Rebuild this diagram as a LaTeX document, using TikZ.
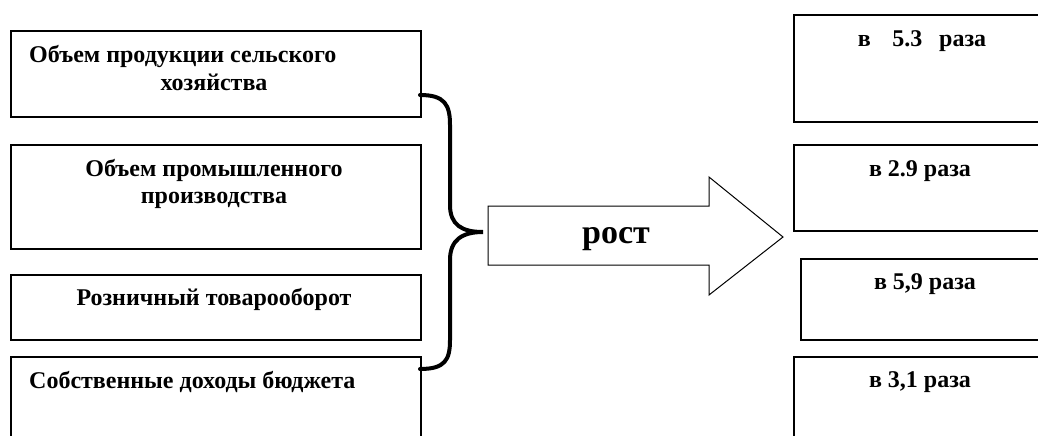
\documentclass[tikz,border=0pt]{standalone}
\usepackage{fontspec}
\setmainfont{Liberation Serif}
\begin{document}
\begin{tikzpicture}[x=1pt,y=-1pt,
  box/.style={draw=black,line width=1.6pt,inner sep=0pt,anchor=north west},
  txt/.style={font=\fontsize{24}{28}\selectfont\bfseries,inner sep=0pt,anchor=base},
  big/.style={font=\fontsize{34}{40}\selectfont\bfseries,inner sep=0pt,anchor=base}]
\clip (0,0) rectangle (1038,436);
\fill[white] (0,0) rectangle (1038,436);
% left boxes
\node[box,minimum width=410pt,minimum height=86pt] (L1) at (10,30) {};
\node[box,minimum width=410pt,minimum height=104pt] (L2) at (10,144) {};
\node[box,minimum width=410pt,minimum height=65pt] (L3) at (10,274) {};
\node[box,minimum width=410pt,minimum height=110pt] (L4) at (10,356) {};
% right boxes
\node[box,minimum width=270pt,minimum height=107pt] (R1) at (793,14) {};
\node[box,minimum width=270pt,minimum height=86pt] (R2) at (793,144) {};
\node[box,minimum width=263pt,minimum height=81pt] (R3) at (800,258) {};
\node[box,minimum width=270pt,minimum height=110pt] (R4) at (793,356) {};
% left texts
\node[txt,anchor=base west] (t1a) at (29,63) {Объем продукции сельского};
\node[txt] (t1b) at (214,90) {хозяйства};
\node[txt] (t2a) at (214,176) {Объем промышленного};
\node[txt] (t2b) at (214,203) {производства};
\node[txt] (t3) at (214,305) {Розничный товарооборот};
\node[txt,anchor=base west] (t4) at (29,388) {Собственные доходы бюджета};
% right texts
\node[txt] (r1) at (922,47) {в\hspace{0.9em}5.3\hspace{0.7em}раза};
\node[txt] (r2) at (920,176) {в 2.9 раза};
\node[txt] (r3) at (925,289) {в 5,9 раза};
\node[txt] (r4) at (920,387) {в 3,1 раза};
% brace
\draw[line width=4pt,line cap=round]
  (420,95) .. controls (445,95) and (450,105) .. (450,125)
  -- (450,205) .. controls (450,225) and (462,232) .. (483,232)
  .. controls (462,232) and (450,240) .. (450,260)
  -- (450,340) .. controls (450,360) and (445,369) .. (420,369);
% arrow
\draw[line width=1pt,line join=miter,fill=white]
  (488,206) -- (709,206) -- (709,177) -- (783,237) -- (709,295)
  -- (709,265) -- (488,265) -- cycle;
\node[big] (rost) at (616,243) {рост};
\end{tikzpicture}
\end{document}
